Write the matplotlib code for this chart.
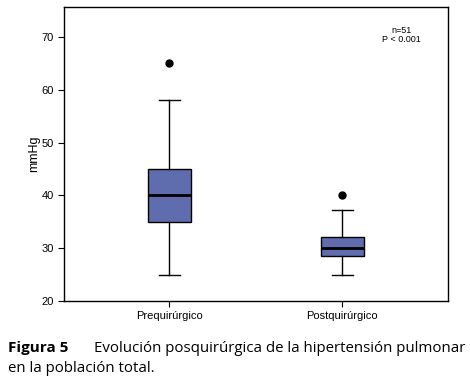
import matplotlib
matplotlib.use("Agg")
import matplotlib.pyplot as plt

categories = ["Prequirúrgico", "Postquirúrgico"]
whislo = [25, 25]
q1 = [35, 28.5]
med = [40, 30]
q3 = [45, 32.2]
whishi = [58, 37.2]
outliers = [[65], [40]]
yticks = [20, 30, 40, 50, 60, 70]

plt.rcParams['font.family'] = ['Liberation Sans', 'DejaVu Sans']

fig = plt.figure(figsize=(4.70, 3.86), dpi=100)
ax = fig.add_axes([0.136, 0.220, 0.817, 0.762])

stats = []
for i, c in enumerate(categories):
    stats.append(dict(label=c, whislo=whislo[i], q1=q1[i], med=med[i],
                      q3=q3[i], whishi=whishi[i], fliers=outliers[i]))

ax.bxp(stats, positions=[1, 2], widths=0.25, patch_artist=True,
       boxprops=dict(facecolor="#5F6DAF", edgecolor="black", linewidth=1.0),
       medianprops=dict(color="black", linewidth=2.0),
       whiskerprops=dict(color="black", linewidth=1.0),
       capprops=dict(color="black", linewidth=1.0),
       capwidths=0.12,
       flierprops=dict(marker="o", markerfacecolor="black", markeredgecolor="black", markersize=5))

ax.set_xlim(0.39, 2.61)
ax.set_ylim(20, 75.7)
ax.set_yticks(yticks)
ax.tick_params(axis="both", labelsize=8, length=4, width=0.8, direction="out")
ax.set_ylabel("mmHg", fontsize=9, labelpad=1)
for s in ax.spines.values():
    s.set_linewidth(1.0)

ax.text(0.88, 0.935, "n=51\nP < 0.001", transform=ax.transAxes, ha="center", va="top",
        fontsize=6.5, linespacing=1.0)

fig.text(0.017, 0.088, "Figura 5", fontsize=11, fontweight="bold", family=["Open Sans", "DejaVu Sans"])
fig.text(0.2, 0.088, "Evolución posquirúrgica de la hipertensión pulmonar", fontsize=10.8, family=["Open Sans", "DejaVu Sans"])
fig.text(0.017, 0.036, "en la población total.", fontsize=10.8, family=["Open Sans", "DejaVu Sans"])

fig.savefig("out.png", dpi=100)
